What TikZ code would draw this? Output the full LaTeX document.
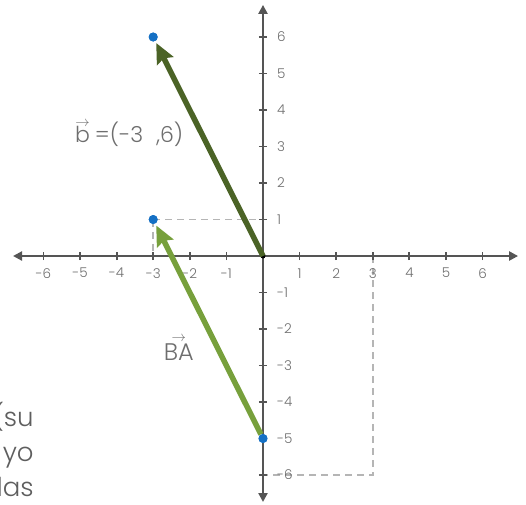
\documentclass[tikz,border=0pt]{standalone}
\usepackage{fontspec}
\setmainfont{Poppins Light}
\usetikzlibrary{arrows.meta}
\definecolor{axisgray}{HTML}{555555}
\definecolor{labelgray}{HTML}{6E6E6E}
\definecolor{textgray}{HTML}{5E5E5E}
\definecolor{dashgray}{HTML}{B5B5B5}
\definecolor{darkgreen}{HTML}{4B6326}
\definecolor{lightgreen}{HTML}{77A03C}
\definecolor{dotblue}{HTML}{1570C4}
\tikzset{
  axisline/.style={draw=axisgray, line width=2.2pt, {Triangle[length=9pt,width=9pt]}-{Triangle[length=9pt,width=9pt]}},
  tickmark/.style={draw=axisgray, line width=1.8pt},
  ticklabel/.style={font=\fontsize{13.5}{13.5}\selectfont, text=labelgray, inner sep=0pt},
  guide/.style={draw=dashgray, line width=1.5pt, dash pattern=on 7pt off 5pt},
  vecdark/.style={draw=darkgreen, line width=5.5pt, -{Stealth[length=20pt,width=18pt,inset=3pt]}, shorten >=2pt},
  veclight/.style={draw=lightgreen, line width=5.5pt, -{Stealth[length=20pt,width=18pt,inset=3pt]}, shorten >=2pt},
  bluedot/.style={circle, fill=dotblue, inner sep=0pt, minimum size=9pt},
  bigtext/.style={font=\fontsize{22}{22}\selectfont, text=labelgray, inner sep=0pt},
  batext/.style={font=\fontsize{24}{24}\selectfont, text=labelgray, inner sep=0pt},
  sidetext/.style={font=\fontsize{26}{26}\selectfont, text=textgray, inner sep=0pt},
}
\begin{document}
\begin{tikzpicture}[x=36.6pt,y=36.5pt]
\useasboundingbox (-7.186,-6.795) rectangle (7.186,7.014);
% guides
\coordinate (P1) at (-3,1);
\coordinate (Y1) at (0,1);
\coordinate (X3) at (-3,0);
\coordinate (Q3) at (3,0);
\coordinate (Q36) at (3,-6);
\coordinate (Y6) at (0,-6);
\draw[guide] (P1) -- (Y1);
\draw[guide] (P1) -- (X3);
\draw[guide] (Q3) -- (Q36) -- (Y6);
% axes
\coordinate (xl) at (-6.83,0);
\coordinate (xr) at (6.97,0);
\coordinate (yt) at (0,6.88);
\coordinate (yb) at (0,-6.74);
\draw[axisline] (xl) -- (xr);
\draw[axisline] (yb) -- (yt);
\foreach \i in {-6,...,-1,1,2,...,6}{
  \draw[tickmark] (\i,-0.11) -- (\i,0.11);
  \draw[tickmark] (-0.11,\i) -- (0.11,\i);
  \node[ticklabel] (xlab\i) at (\i,-0.47) {\i};
  \node[ticklabel, anchor=west] (ylab\i) at (0.38,\i) {\i};
}
\fill[black] (0,0) circle (2.5pt);
% vectors
\coordinate (O) at (0,0);
\node[bluedot] (B) at (-3,6) {};
\node[bluedot] (A) at (-3,1) {};
\node[bluedot] (C) at (0,-5) {};
\draw[vecdark] (O) -- (B);
\draw[veclight] (C) -- (A);
\node[bluedot] at (-3,6) {};
\node[bluedot] at (-3,1) {};
\node[bluedot] at (0,-5) {};
% labels
\node[bigtext, anchor=base west] (blab) at (-5.14,3.12) {\shortstack{{\fontsize{14}{14}\selectfont$\rightarrow$}\\[-4pt]b}\hspace{5pt}=(-3\hspace{13pt},6)};
\node[batext, anchor=base] (balab) at (-2.3,-2.85) {\shortstack{{\fontsize{15}{15}\selectfont$\rightarrow$}\\[-1pt]BA}};
% cropped text at left
\begin{scope}
\clip (-7.186,-6.795) rectangle (7.186,7.014);
\node[sidetext, anchor=base east] (t1) at (-6.26,-4.66) {(su};
\node[sidetext, anchor=base east] (t2) at (-6.26,-5.62) {yo};
\node[sidetext, anchor=base east] (t3) at (-6.26,-6.58) {las};
\end{scope}
\end{tikzpicture}
\end{document}
